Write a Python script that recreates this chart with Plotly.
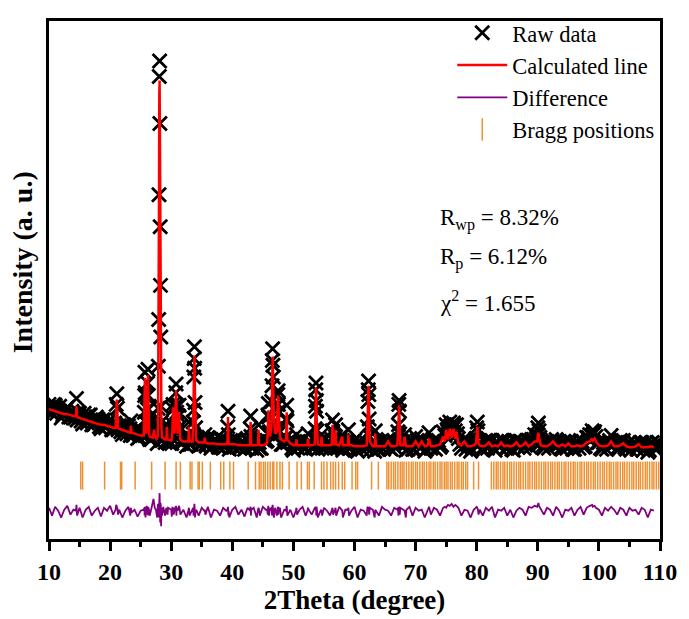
import numpy as np
import plotly.graph_objects as go

# ---------------- data ----------------
# scan positions (2theta, degree) with calculated and difference profiles
two_theta = [
    10.0, 10.5, 11.0, 11.5, 12.0, 12.5, 13.0, 13.5, 14.0,
    14.4, 14.5, 14.6, 15.0, 15.5, 16.0, 16.5, 17.0, 17.5, 18.0,
    18.5, 19.0, 19.5, 20.0, 20.5, 20.9, 21.0, 21.1, 21.2, 21.3,
    21.5, 22.0, 22.5, 23.0, 23.3, 23.4, 23.5, 24.0, 24.5, 25.0,
    25.5, 25.6, 25.65, 25.7, 25.75, 25.8, 25.9, 26.0, 26.1, 26.15, 26.2, 26.25, 26.3, 26.4,
    26.5, 26.8, 27.0, 27.1, 27.2, 27.3, 27.5, 27.7, 27.8, 27.85,
    27.9, 27.95, 28.0, 28.05, 28.1, 28.15, 28.2, 28.25, 28.3, 28.35, 28.4, 28.5,
    28.7, 29.0, 29.2, 29.3, 29.4, 29.5, 30.0, 30.1, 30.2, 30.3,
    30.35, 30.4, 30.55, 30.7, 30.75, 30.8, 30.85, 30.9, 31.05, 31.2, 31.3, 31.4, 31.5,
    32.0, 32.5, 32.8, 32.9, 33.0, 33.5, 33.6, 33.65, 33.7, 33.75, 33.8, 33.85, 33.9, 34.0, 34.1,
    34.5, 35.0, 35.4, 35.5, 35.6, 36.0, 36.5, 37.0, 37.5, 38.0, 38.5, 39.0,
    39.2, 39.25, 39.3, 39.35, 39.4, 39.5, 40.0, 40.5, 41.0, 41.5, 42.0, 42.5,
    42.9, 42.95, 43.0, 43.05, 43.1, 43.5, 44.0, 44.2, 44.3, 44.4, 44.5, 45.0, 45.5,
    45.7, 45.8, 45.85, 45.9, 45.95, 46.0, 46.2, 46.4, 46.45, 46.5, 46.55, 46.6, 46.65, 46.7, 46.8,
    47.0, 47.3, 47.4, 47.45, 47.5, 47.55, 47.6, 47.8, 48.0, 48.5, 48.8, 48.85, 48.9, 48.95, 49.0,
    49.5, 50.0, 50.4, 50.5, 50.6, 51.0, 51.5, 52.0, 52.3, 52.4, 52.5, 53.0, 53.5,
    53.55, 53.6, 53.65, 53.7, 53.75, 53.8, 53.85, 54.0, 54.5, 54.6, 54.7, 55.0, 55.5,
    56.0, 56.3, 56.35, 56.4, 56.45, 56.5, 56.8, 56.9, 57.0, 57.5, 58.0, 58.1, 58.5,
    58.9, 59.0, 59.1, 59.5, 60.0, 60.5, 61.0, 61.5, 62.0, 62.1, 62.2, 62.25, 62.3,
    62.35, 62.4, 62.5, 63.0, 63.3, 63.4, 63.5, 64.0, 64.5, 65.0, 65.5, 66.0, 66.5,
    67.0, 67.1, 67.2, 67.25, 67.3, 67.35, 67.4, 67.5, 68.0, 68.2, 68.4, 68.5, 69.0,
    69.5, 70.0, 70.5, 71.0, 71.5, 72.0, 72.2, 72.5, 73.0, 73.5, 74.0, 74.5,
    74.8, 75.0, 75.3, 75.6, 75.9, 76.2, 76.5, 76.7, 77.0, 77.5, 78.0, 78.5, 79.0, 79.5,
    79.9, 80.0, 80.1, 80.2, 80.3, 80.5, 81.0, 81.5, 82.0, 82.5, 83.0, 83.5, 84.0, 84.5, 85.0,
    85.5, 86.0, 86.5, 87.0, 87.5, 88.0, 88.5, 89.0, 89.5, 89.9, 90.0, 90.1, 90.2, 90.5, 91.0,
    91.5, 92.0, 92.5, 93.0, 93.5, 94.0, 94.5, 95.0, 95.5, 96.0, 96.5, 97.0, 97.5, 98.0,
    98.5, 98.9, 99.0, 99.3, 99.5, 100.0, 100.5, 101.0, 101.5, 102.0, 102.5, 103.0, 103.5, 104.0,
    104.5, 105.0, 105.5, 106.0, 106.5, 107.0, 107.5, 108.0, 108.5, 109.0, 109.5, 110.0,
]

# calculated intensity (a.u.)
y_calc = [
    133, 132, 131, 130, 129, 128, 128, 127, 126,
    126, 136, 125, 124, 123, 122, 121, 120, 119, 118,
    117, 117, 116, 115, 114, 114, 130, 143, 130, 114,
    113, 112, 111, 110, 109, 116, 109, 108, 107, 106,
    106, 125, 150, 165, 148, 125, 108, 112, 135, 155, 168, 150, 128, 107,
    105, 104, 104, 108, 112, 107, 103, 103, 106, 125,
    170, 230, 340, 455, 470, 420, 330, 250, 200, 150, 115, 104,
    103, 102, 102, 115, 102, 102, 101, 102, 112, 135,
    128, 115, 108, 130, 145, 152, 140, 125, 108, 120, 130, 112, 102,
    100, 100, 100, 115, 100, 100, 115, 135, 160, 180, 188, 172, 145, 112, 101,
    99, 99, 99, 104, 99, 98, 98, 98, 97, 97, 97, 97,
    97, 110, 125, 110, 97, 97, 97, 97, 96, 96, 96, 96,
    96, 108, 120, 108, 96, 96, 96, 97, 112, 97, 96, 96, 97,
    98, 110, 122, 132, 122, 112, 105, 115, 135, 160, 178, 187, 175, 160, 125,
    108, 110, 135, 142, 147, 140, 128, 105, 102, 100, 102, 118, 130, 118, 102,
    98, 96, 96, 102, 96, 96, 96, 96, 96, 103, 96, 96, 97,
    110, 130, 148, 155, 145, 125, 108, 97, 96, 105, 96, 96, 96,
    96, 97, 108, 117, 108, 97, 97, 112, 97, 96, 105, 96, 96,
    96, 107, 96, 96, 95, 95, 95, 95, 96, 110, 135, 150, 157,
    145, 125, 100, 95, 95, 108, 95, 95, 95, 95, 100, 95, 95,
    96, 105, 120, 132, 137, 128, 110, 96, 96, 105, 96, 95, 95,
    95, 100, 95, 100, 95, 96, 103, 95, 95, 96, 97, 105,
    100, 112, 102, 113, 104, 113, 103, 110, 98, 96, 100, 95, 95, 96,
    98, 108, 115, 108, 98, 96, 95, 96, 99, 95, 96, 95, 99, 95, 96,
    95, 96, 99, 95, 96, 99, 95, 97, 100, 100, 106, 109, 104, 96, 95,
    95, 97, 100, 96, 95, 97, 95, 98, 95, 95, 96, 95, 96, 99,
    100, 103, 101, 103, 100, 96, 95, 95, 96, 100, 95, 95, 96, 98,
    95, 94, 94, 95, 97, 94, 94, 94, 95, 94, 94, 94,
]

# observed - calculated (a.u.)
y_diff = [
    5, -3, 6, 2, -5, 3, 7, -2, 3,
    2, 8, -3, 5, -5, 3, 6, -3, 2, 5,
    -4, 5, 2, 7, -2, 3, 8, 6, 4, -2,
    3, -5, 2, 6, -3, 5, 0, 3, -4, 2,
    3, 5, -3, 6, 2, -5, 3, 7, -2, 5, 6, -3, 5, 2,
    -3, 5, 8, 14, 10, 5, 3, -5, 6, 9,
    7, -5, 13, 19, 20, 6, -10, 10, 7, -14, 5, -3,
    6, -3, 5, 2, -2, 5, 3, -4, 6, 3,
    5, -2, 3, 6, 5, 7, -3, 5, 2, 6, 7, 3, -2,
    3, -5, 2, 5, -3, 3, 5, -3, 6, 5, 9, 3, -5, 2, 3,
    -3, 5, 2, 3, -2, 6, -5, 3, 2, -3, 5, 2,
    3, 5, 6, -3, 2, -5, 3, 6, -2, 3, -4, 5,
    2, 5, 6, -3, 3, 5, -5, 3, 5, 2, -3, 6, 3,
    3, -2, 5, 7, 3, -3, 5, 2, 6, -3, 5, 8, 3, 6, -5,
    5, -3, 3, 6, 5, -2, 3, 5, -5, 3, 2, 5, 7, 3, -3,
    3, -5, 2, 5, -2, 3, 6, -3, 2, 5, 3, -2, 5,
    3, 6, 5, 5, -3, 6, 3, -5, 3, 2, -3, 5, 2,
    -3, 5, 3, 5, 2, -2, 3, 5, -3, 6, 2, -5, 3,
    3, 5, -3, 2, 6, -5, 3, 2, -3, 5, 6, 3, 5,
    3, -2, 5, 3, -5, 3, 2, -3, 6, 3, 2, -3, 5,
    3, 5, -3, 6, 5, 3, -2, 5, 3, 2, -5, 3, 6,
    -3, 5, 2, 3, -5, 3, 6, -2, 5, 3, -3, 5,
    6, 5, 8, 7, 9, 6, 8, 7, 5, -3, 3, 2, -5, 3,
    5, 6, 5, 3, -2, 3, -3, 5, 2, 6, -5, 3, 2, 5, -3,
    3, -5, 2, 5, 3, -3, 6, 5, 7, 6, 8, 10, 7, 3, -2,
    5, 3, -3, 6, 2, -5, 3, 2, 5, -3, 3, 6, -2, 5,
    7, 8, 6, 7, 5, 3, -3, 5, 2, 6, 3, -2, 5, 3,
    -3, 5, 2, 3, -2, 5, 3, -5, 3, 2, 5, 3,
]

# additional observed points between the profile nodes (raw data only)
extra_theta = [
    10.25, 10.75, 11.25, 11.75, 12.25, 12.75, 13.25, 13.75, 14.25, 14.75,
    15.25, 15.75, 16.25, 16.75, 17.25, 17.75, 18.25, 18.75, 19.25, 19.75,
    20.25, 20.75, 21.75, 22.25, 22.75, 23.25, 23.75, 24.25, 24.75, 25.25,
    26.75, 27.25, 28.75, 29.75, 31.75, 32.25, 32.75, 33.25, 34.25, 34.75,
    35.25, 35.75, 36.25, 36.75, 37.25, 37.75, 38.25, 38.75, 39.75, 40.25,
    40.75, 41.25, 41.75, 42.25, 42.75, 43.25, 43.75, 44.75, 45.25, 48.25,
    49.25, 49.75, 50.25, 50.75, 51.25, 51.75, 52.75, 53.25, 54.25, 54.85,
    55.25, 55.75, 56.15, 56.65, 57.25, 57.75, 58.25, 58.7, 59.25, 59.75,
    60.25, 60.75, 61.25, 61.75, 62.75, 63.15, 63.75, 64.25, 64.75, 65.25,
    65.75, 66.25, 66.75, 67.75, 68.75, 69.25, 69.75, 70.25, 70.75, 71.25,
    71.75, 72.75, 73.25, 73.75, 74.25, 75.15, 75.45, 75.75, 76.05, 76.35,
    76.85, 77.25, 77.75, 78.25, 78.75, 79.25, 79.75, 80.75, 81.25, 81.75,
    82.25, 82.75, 83.25, 83.75, 84.25, 84.75, 85.25, 85.75, 86.25, 86.75,
    87.25, 87.75, 88.25, 88.75, 89.25, 89.75, 90.35, 90.75, 91.25, 91.75,
    92.25, 92.75, 93.25, 93.75, 94.25, 94.75, 95.25, 95.75, 96.25, 96.75,
    97.25, 97.75, 98.25, 98.7, 99.15, 99.75, 100.25, 100.75, 101.25, 101.75,
    102.25, 102.75, 103.25, 103.75, 104.25, 104.75, 105.25, 105.75, 106.25, 106.75,
    107.25, 107.75, 108.25, 108.75, 109.25, 109.75, 109.95,
]
extra_obs = [
    130, 138, 129, 136, 127, 133, 125, 131, 124, 130,
    121, 129, 119, 127, 117, 125, 115, 122, 114, 121,
    112, 119, 110, 117, 108, 113, 106, 113, 104, 111,
    102, 118, 108, 99, 98, 105, 104, 97, 104, 96,
    103, 95, 103, 95, 102, 94, 101, 94, 101, 94,
    101, 93, 100, 93, 100, 93, 100, 93, 101, 97,
    100, 93, 100, 93, 100, 93, 100, 93, 100, 101,
    93, 100, 94, 101, 93, 100, 93, 100, 93, 100,
    92, 100, 92, 100, 92, 100, 92, 100, 92, 100,
    93, 100, 93, 100, 92, 100, 92, 101, 93, 100,
    92, 100, 92, 101, 96, 112, 113, 116, 113, 116,
    108, 97, 100, 92, 100, 92, 100, 92, 100, 93,
    101, 93, 100, 94, 101, 93, 100, 92, 101, 94,
    100, 93, 101, 94, 102, 103, 104, 95, 100, 93,
    102, 95, 100, 93, 100, 93, 100, 92, 100, 93,
    100, 95, 104, 106, 108, 99, 93, 99, 92, 101,
    97, 99, 92, 100, 94, 98, 91, 99, 92, 99,
    91, 99, 91, 99, 92, 99, 95,
]

# Bragg reflection positions (2theta, degree)
bragg_theta = [
    15.2, 15.5, 19.1, 21.7, 21.9, 24.1, 26.8, 29.0, 30.8, 31.5, 33.1, 33.4,
    34.4, 34.6, 35.1, 36.4, 38.1, 38.6, 39.6, 40.2, 42.6, 43.8, 44.4, 44.7,
    45.1, 45.4, 45.8, 46.2, 46.6, 46.8, 47.3, 47.8, 48.2, 49.3, 50.6, 51.3,
    52.3, 52.6, 53.4, 54.6, 55.0, 55.5, 56.1, 56.5, 56.9, 57.4, 58.0, 58.4,
    59.6, 60.2, 60.5, 62.8, 63.9,
    65.3, 65.6, 66.0, 66.4, 66.7, 67.1, 67.5, 67.8, 68.1, 68.5, 68.9, 69.3,
    69.6, 70.0, 70.3, 70.7, 71.1, 71.4, 71.8, 72.2, 72.5, 72.9, 73.2, 73.6,
    74.0, 74.3, 74.7, 75.0, 75.3, 75.7, 76.0, 76.4, 76.8, 77.1, 77.5, 77.8,
    78.2, 78.5, 79.5, 80.3,
    82.4, 82.8, 83.2, 83.5, 83.9, 84.3, 84.6, 85.0, 85.4, 85.7, 86.1, 86.5,
    86.9, 87.2, 87.6, 88.0, 88.4, 88.7, 89.1, 89.5, 89.8, 90.2, 90.6, 91.0,
    91.3, 91.7, 92.1, 92.4, 92.8, 93.2, 93.5, 93.9, 94.3, 94.6, 95.0, 95.4,
    95.8, 96.1, 96.5, 96.9, 97.2, 97.6, 98.0, 98.3, 98.7, 99.1, 99.4, 99.8,
    100.2, 100.6, 100.9, 101.3, 101.7, 102.0, 102.4, 102.8, 103.1, 103.5,
    103.9, 104.2, 104.6, 105.0, 105.4, 105.7, 106.1, 106.5, 106.8, 107.2,
    107.6, 107.9, 108.3, 108.7, 109.0, 109.4, 109.8,
]

x_ticks = [10, 20, 30, 40, 50, 60, 70, 80, 90, 100, 110]

fit_stats = ["R<sub>wp</sub> = 8.32%", "R<sub>p</sub> = 6.12%", "χ<sup>2</sup> = 1.655"]

# ---------------- derived ----------------
assert len(two_theta) == len(y_calc) == len(y_diff), (len(two_theta), len(y_calc), len(y_diff))
assert len(extra_theta) == len(extra_obs), (len(extra_theta), len(extra_obs))
tt = np.array(two_theta, dtype=float)
yc = np.array(y_calc, dtype=float)
yd = np.array(y_diff, dtype=float)
y_obs = yc + yd
raw_x = np.concatenate([tt, np.array(extra_theta, dtype=float)])
raw_y = np.concatenate([y_obs, np.array(extra_obs, dtype=float)])
calc_mask = tt <= 109.0

DIFF_OFFSET = 27
BRAGG_LEVEL = 65
SERIF = "Liberation Serif, Times New Roman, serif"
ORANGE = "rgb(238,145,50)"

fig = go.Figure()
fig.add_trace(go.Scatter(
    x=raw_x, y=raw_y, mode="markers", name="Raw data", legendgroup="a",
    marker=dict(symbol="x-thin-open", size=14, color="black",
                line=dict(width=2.8, color="black")),
))
fig.add_trace(go.Scatter(
    x=tt[calc_mask], y=yc[calc_mask], mode="lines", name="Calculated line",
    legendgroup="b", line=dict(color="rgb(255,0,0)", width=2.5),
))
fig.add_trace(go.Scatter(
    x=tt[calc_mask], y=DIFF_OFFSET + yd[calc_mask], mode="lines", name="Difference",
    legendgroup="c", line=dict(color="rgb(128,0,128)", width=1.8),
))
fig.add_trace(go.Scatter(
    x=bragg_theta, y=[BRAGG_LEVEL] * len(bragg_theta), mode="markers",
    name="Bragg positions", legendgroup="d",
    marker=dict(symbol="line-ns-open", size=20, color=ORANGE,
                line=dict(width=1.5, color=ORANGE)),
))

stat_y = [328, 288, 243]
for txt, yy in zip(fit_stats, stat_y):
    fig.add_annotation(x=73.6, y=yy, xref="x", yref="y", text=txt, showarrow=False,
                       xanchor="left", yanchor="middle",
                       font=dict(family=SERIF, size=23, color="black"))

fig.add_annotation(x=-0.042, y=284, xref="paper", yref="y", text="Intensity (a. u.)",
                   textangle=-90, showarrow=False, xanchor="center", yanchor="middle",
                   font=dict(family=SERIF, size=28, color="black", weight="bold"))

fig.update_layout(
    width=689, height=619,
    margin=dict(l=49, r=20, t=14, b=74),
    paper_bgcolor="white", plot_bgcolor="white",
    font=dict(family=SERIF, color="black"),
    showlegend=True,
    legend=dict(x=0.66, y=1.018, xanchor="left", yanchor="top",
                bgcolor="rgba(0,0,0,0)", font=dict(family=SERIF, size=22.5, color="black"),
                tracegroupgap=0, itemwidth=50),
    xaxis=dict(
        range=[10, 110], tickvals=x_ticks, ticktext=[str(v) for v in x_ticks],
        ticks="outside", ticklen=9, tickwidth=2.5, tickcolor="black",
        minor=dict(dtick=5, tick0=10, ticks="outside", ticklen=5, tickwidth=2.5, tickcolor="black"),
        showline=True, linewidth=2.5, linecolor="black", mirror=True,
        showgrid=False, zeroline=False,
        tickfont=dict(family=SERIF, size=24, color="black", weight="bold"),
        title=dict(text="2Theta (degree)", standoff=4,
                   font=dict(family=SERIF, size=27, color="black", weight="bold")),
    ),
    yaxis=dict(
        range=[0, 531], showticklabels=False, ticks="",
        showline=True, linewidth=2.5, linecolor="black", mirror=True,
        showgrid=False, zeroline=False,
    ),
)

fig.write_html("out.html")
